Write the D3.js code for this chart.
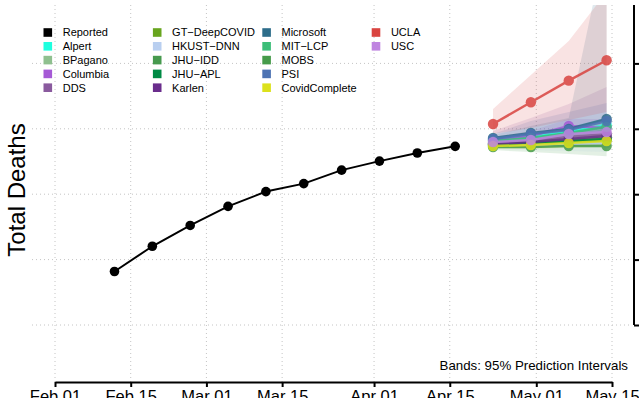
<!DOCTYPE html>
<html><head><meta charset="utf-8">
<script src="https://cdn.jsdelivr.net/npm/d3@7"></script>
<style>html,body{margin:0;padding:0;overflow:hidden;background:#fff}
text{font-family:"Liberation Sans",Arial,Helvetica,sans-serif}</style>
</head><body><svg id="chart" width="639" height="398"></svg>
<script>
// ---------- DATA ----------
const reportedDates = ["2021-02-12","2021-02-19","2021-02-26","2021-03-05","2021-03-12","2021-03-19","2021-03-26","2021-04-02","2021-04-09","2021-04-16"];
const reportedValues = [44090,46020,47610,49070,50200,50810,51840,52530,53150,53660];
const forecastDates = ["2021-04-23","2021-04-30","2021-05-07","2021-05-14"];

const modelNames = ["Alpert","BPagano","Columbia","DDS","GT\u2212DeepCOVID","HKUST\u2212DNN","JHU\u2212IDD","JHU\u2212APL","Karlen","Microsoft","MIT\u2212LCP","MOBS","PSI","CovidComplete","UCLA","USC"];
const modelColors = ["#1effdf","#8fc08f","#a65ad6","#8a5a9e","#68a51e","#b9cff0","#479a4e","#008a44","#6a2d8c","#2d6d8a","#3cbe78","#469b4a","#4d73b3","#dce11c","#d94440","#bf85e0"];

const meanAlpert = [54140,54370,54750,55290];
const meanBPagano = [53910,54070,54220,54370];
const meanColumbia = [54140,54450,55220,55060];
const meanDDS = [53910,54140,54370,54600];
const meanGT = [53760,53840,53990,54140];
const meanHKUST = [53680,53760,53840,53910];
const meanJHUIDD = [53840,53990,54140,54300];
const meanJHUAPL = [53760,53910,54070,54220];
const meanKarlen = [53840,53990,54220,54450];
const meanMicrosoft = [54300,54680,54980,55750];
const meanMITLCP = [54070,54300,54680,55150];
const meanMOBS = [53610,53610,53680,53680];
const meanPSI = [54220,54600,54910,55600];
const meanCovidComplete = [53680,53760,53910,54070];
const meanUCLA = [55370,57030,58680,60240];
const meanUSC = [53990,54140,54600,54750];

const lowerAlpert = [53990,54140,54450,54830];
const upperAlpert = [54300,54680,55150,55830];
const lowerBPagano = [53760,53840,53910,53990];
const upperBPagano = [54070,54300,54530,54830];
const lowerColumbia = [53990,54140,54680,54600];
const upperColumbia = [54370,54830,55750,55750];
const lowerDDS = [53680,53760,53840,53910];
const upperDDS = [54830,55830,56900,58200];
const lowerGT = [53530,53530,53610,53610];
const upperGT = [54070,54300,54530,54830];
const lowerHKUST = [53450,53370,53300,53220];
const upperHKUST = [53910,54140,54370,54600];
const lowerJHUIDD = [53610,53680,53760,53840];
const upperJHUIDD = [54070,54450,54830,55300];
const lowerJHUAPL = [53530,53610,53680,53760];
const upperJHUAPL = [53990,54300,54600,54980];
const lowerKarlen = [53610,53610,53680,53680];
const upperKarlen = [54070,54450,54830,55300];
const lowerMicrosoft = [54070,54370,54680,55140];
const upperMicrosoft = [54530,55220,55830,69430];
const lowerMITLCP = [53910,54070,54300,54600];
const upperMITLCP = [54220,54600,55060,55750];
const lowerMOBS = [53370,53220,53070,52910];
const upperMOBS = [53840,53990,54300,54600];
const lowerPSI = [53990,54220,54450,54750];
const upperPSI = [54600,55600,56280,56970];
const lowerCovidComplete = [53450,53450,53530,53610];
const upperCovidComplete = [53910,54140,54370,54680];
const lowerUCLA = [54600,55060,55670,56280];
const upperUCLA = [56510,59110,61710,65460];
const lowerUSC = [53840,53910,54220,54300];
const upperUSC = [54220,54450,54980,55300];

const xTickDates = ["2021-02-01","2021-02-15","2021-03-01","2021-03-15","2021-04-01","2021-04-15","2021-05-01","2021-05-15"];
const xTickLabels = ["Feb 01","Feb 15","Mar 01","Mar 15","Apr 01","Apr 15","May 01","May 15"];
const yTickValues = [40000,45000,50000,55000,60000];
const yTitle = "Total Deaths";
const bandNote = "Bands: 95% Prediction Intervals";
const reportedLabel = "Reported";

// ---------- BUILD ----------
const means = [meanAlpert,meanBPagano,meanColumbia,meanDDS,meanGT,meanHKUST,meanJHUIDD,meanJHUAPL,meanKarlen,meanMicrosoft,meanMITLCP,meanMOBS,meanPSI,meanCovidComplete,meanUCLA,meanUSC];
const lowers = [lowerAlpert,lowerBPagano,lowerColumbia,lowerDDS,lowerGT,lowerHKUST,lowerJHUIDD,lowerJHUAPL,lowerKarlen,lowerMicrosoft,lowerMITLCP,lowerMOBS,lowerPSI,lowerCovidComplete,lowerUCLA,lowerUSC];
const uppers = [upperAlpert,upperBPagano,upperColumbia,upperDDS,upperGT,upperHKUST,upperJHUIDD,upperJHUAPL,upperKarlen,upperMicrosoft,upperMITLCP,upperMOBS,upperPSI,upperCovidComplete,upperUCLA,upperUSC];
const parse = d3.utcParse("%Y-%m-%d");
const fDates = forecastDates.map(parse);
const models = modelNames.map((n,i)=>({name:n,color:modelColors[i],
  pts:fDates.map((d,j)=>({d:d,v:means[i][j],lo:lowers[i][j],hi:uppers[i][j]}))}));
const reported = reportedDates.map((d,i)=>({d:parse(d),v:reportedValues[i]}));

const svg = d3.select("#chart");
const x = d3.scaleUtc().domain([parse("2021-02-01"),parse("2021-05-15")]).range([55,612]);
const y = d3.scaleLinear().domain([40000,65000]).range([325,-2]);
const plot = {x0:32,x1:630,y0:5,y1:382};

svg.append("defs").append("clipPath").attr("id","clip").append("rect")
  .attr("x",plot.x0).attr("y",plot.y0).attr("width",plot.x1-plot.x0).attr("height",plot.y1-plot.y0);

// gridlines
const grid = svg.append("g").attr("stroke","#c4c4c4").attr("stroke-width",1).attr("stroke-dasharray","1,3");
grid.selectAll("line.v").data(xTickDates.map(parse)).join("line")
  .attr("x1",d=>x(d)).attr("x2",d=>x(d)).attr("y1",plot.y0).attr("y2",plot.y1);
grid.selectAll("line.h").data(yTickValues).join("line")
  .attr("x1",plot.x0).attr("x2",plot.x1).attr("y1",d=>y(d)).attr("y2",d=>y(d));

const g = svg.append("g").attr("clip-path","url(#clip)");
// bands
const area = d3.area().x(p=>x(p.d)).y0(p=>y(p.lo)).y1(p=>y(p.hi));
g.selectAll("path.band").data(models).join("path")
  .attr("d",m=>area(m.pts)).attr("fill",m=>m.color).attr("fill-opacity",0.15).attr("stroke","none");

// reported
const line = d3.line().x(p=>x(p.d)).y(p=>y(p.v));
g.append("path").attr("d",line(reported)).attr("fill","none").attr("stroke","#000").attr("stroke-width",2);
g.selectAll("circle.rep").data(reported).join("circle")
  .attr("cx",p=>x(p.d)).attr("cy",p=>y(p.v)).attr("r",4.8).attr("fill","#000");

// forecasts
const fg = g.selectAll("g.model").data(models).join("g").attr("opacity",0.85);
fg.append("path").attr("d",m=>line(m.pts)).attr("fill","none").attr("stroke",m=>m.color).attr("stroke-width",2.5);
fg.selectAll("circle").data(m=>m.pts.map(p=>({p:p,c:m.color}))).join("circle")
  .attr("cx",o=>x(o.p.d)).attr("cy",o=>y(o.p.v)).attr("r",5.2).attr("fill",o=>o.c);

// x axis
const xa = svg.append("g").attr("transform","translate(0,382)")
  .call(d3.axisBottom(x).tickValues(xTickDates.map(parse)).tickFormat((d,i)=>xTickLabels[i]).tickSize(5).tickSizeOuter(0).tickPadding(3.5));
xa.select(".domain").attr("stroke-width",2);
xa.selectAll(".tick line").attr("stroke-width",2);
xa.selectAll("text").attr("font-size",16.5).attr("fill","#000").attr("font-family","Liberation Sans, Arial, sans-serif");

// y axis (right) - its labels lie outside the cropped picture, as in the reference
const ya = svg.append("g").attr("transform","translate(634,0)")
  .call(d3.axisRight(y).tickValues(yTickValues).tickFormat("").tickSize(6).tickSizeOuter(0));
ya.select(".domain").attr("d",`M0,${y(40000)}V${plot.y0}`).attr("stroke-width",2);
ya.selectAll(".tick line").attr("stroke-width",2);

// y title
svg.append("text").attr("transform",`translate(25,190) rotate(-90)`).attr("text-anchor","middle")
  .attr("font-size",24).attr("fill","#000").text(yTitle);

// band note
svg.append("text").attr("x",628).attr("y",370).attr("text-anchor","end").attr("font-size",13.3).attr("fill","#000").text(bandNote);

// legend
const legendItems = [{name:reportedLabel,color:"#000"}].concat(models.map(m=>({name:m.name,color:m.color})));
const lg = svg.append("g");
legendItems.forEach((it,i)=>{
  const col = Math.floor(i/5), row = i%5;
  const lx = 43.5 + col*109.4, ly = 32.5 + row*13.8;
  lg.append("rect").attr("x",lx).attr("y",ly-4.3).attr("width",8.6).attr("height",8.6).attr("fill",it.color);
  lg.append("text").attr("x",lx+19.2).attr("y",ly+3.9).attr("font-size",11).attr("fill","#000").text(it.name);
});
</script></body></html>
